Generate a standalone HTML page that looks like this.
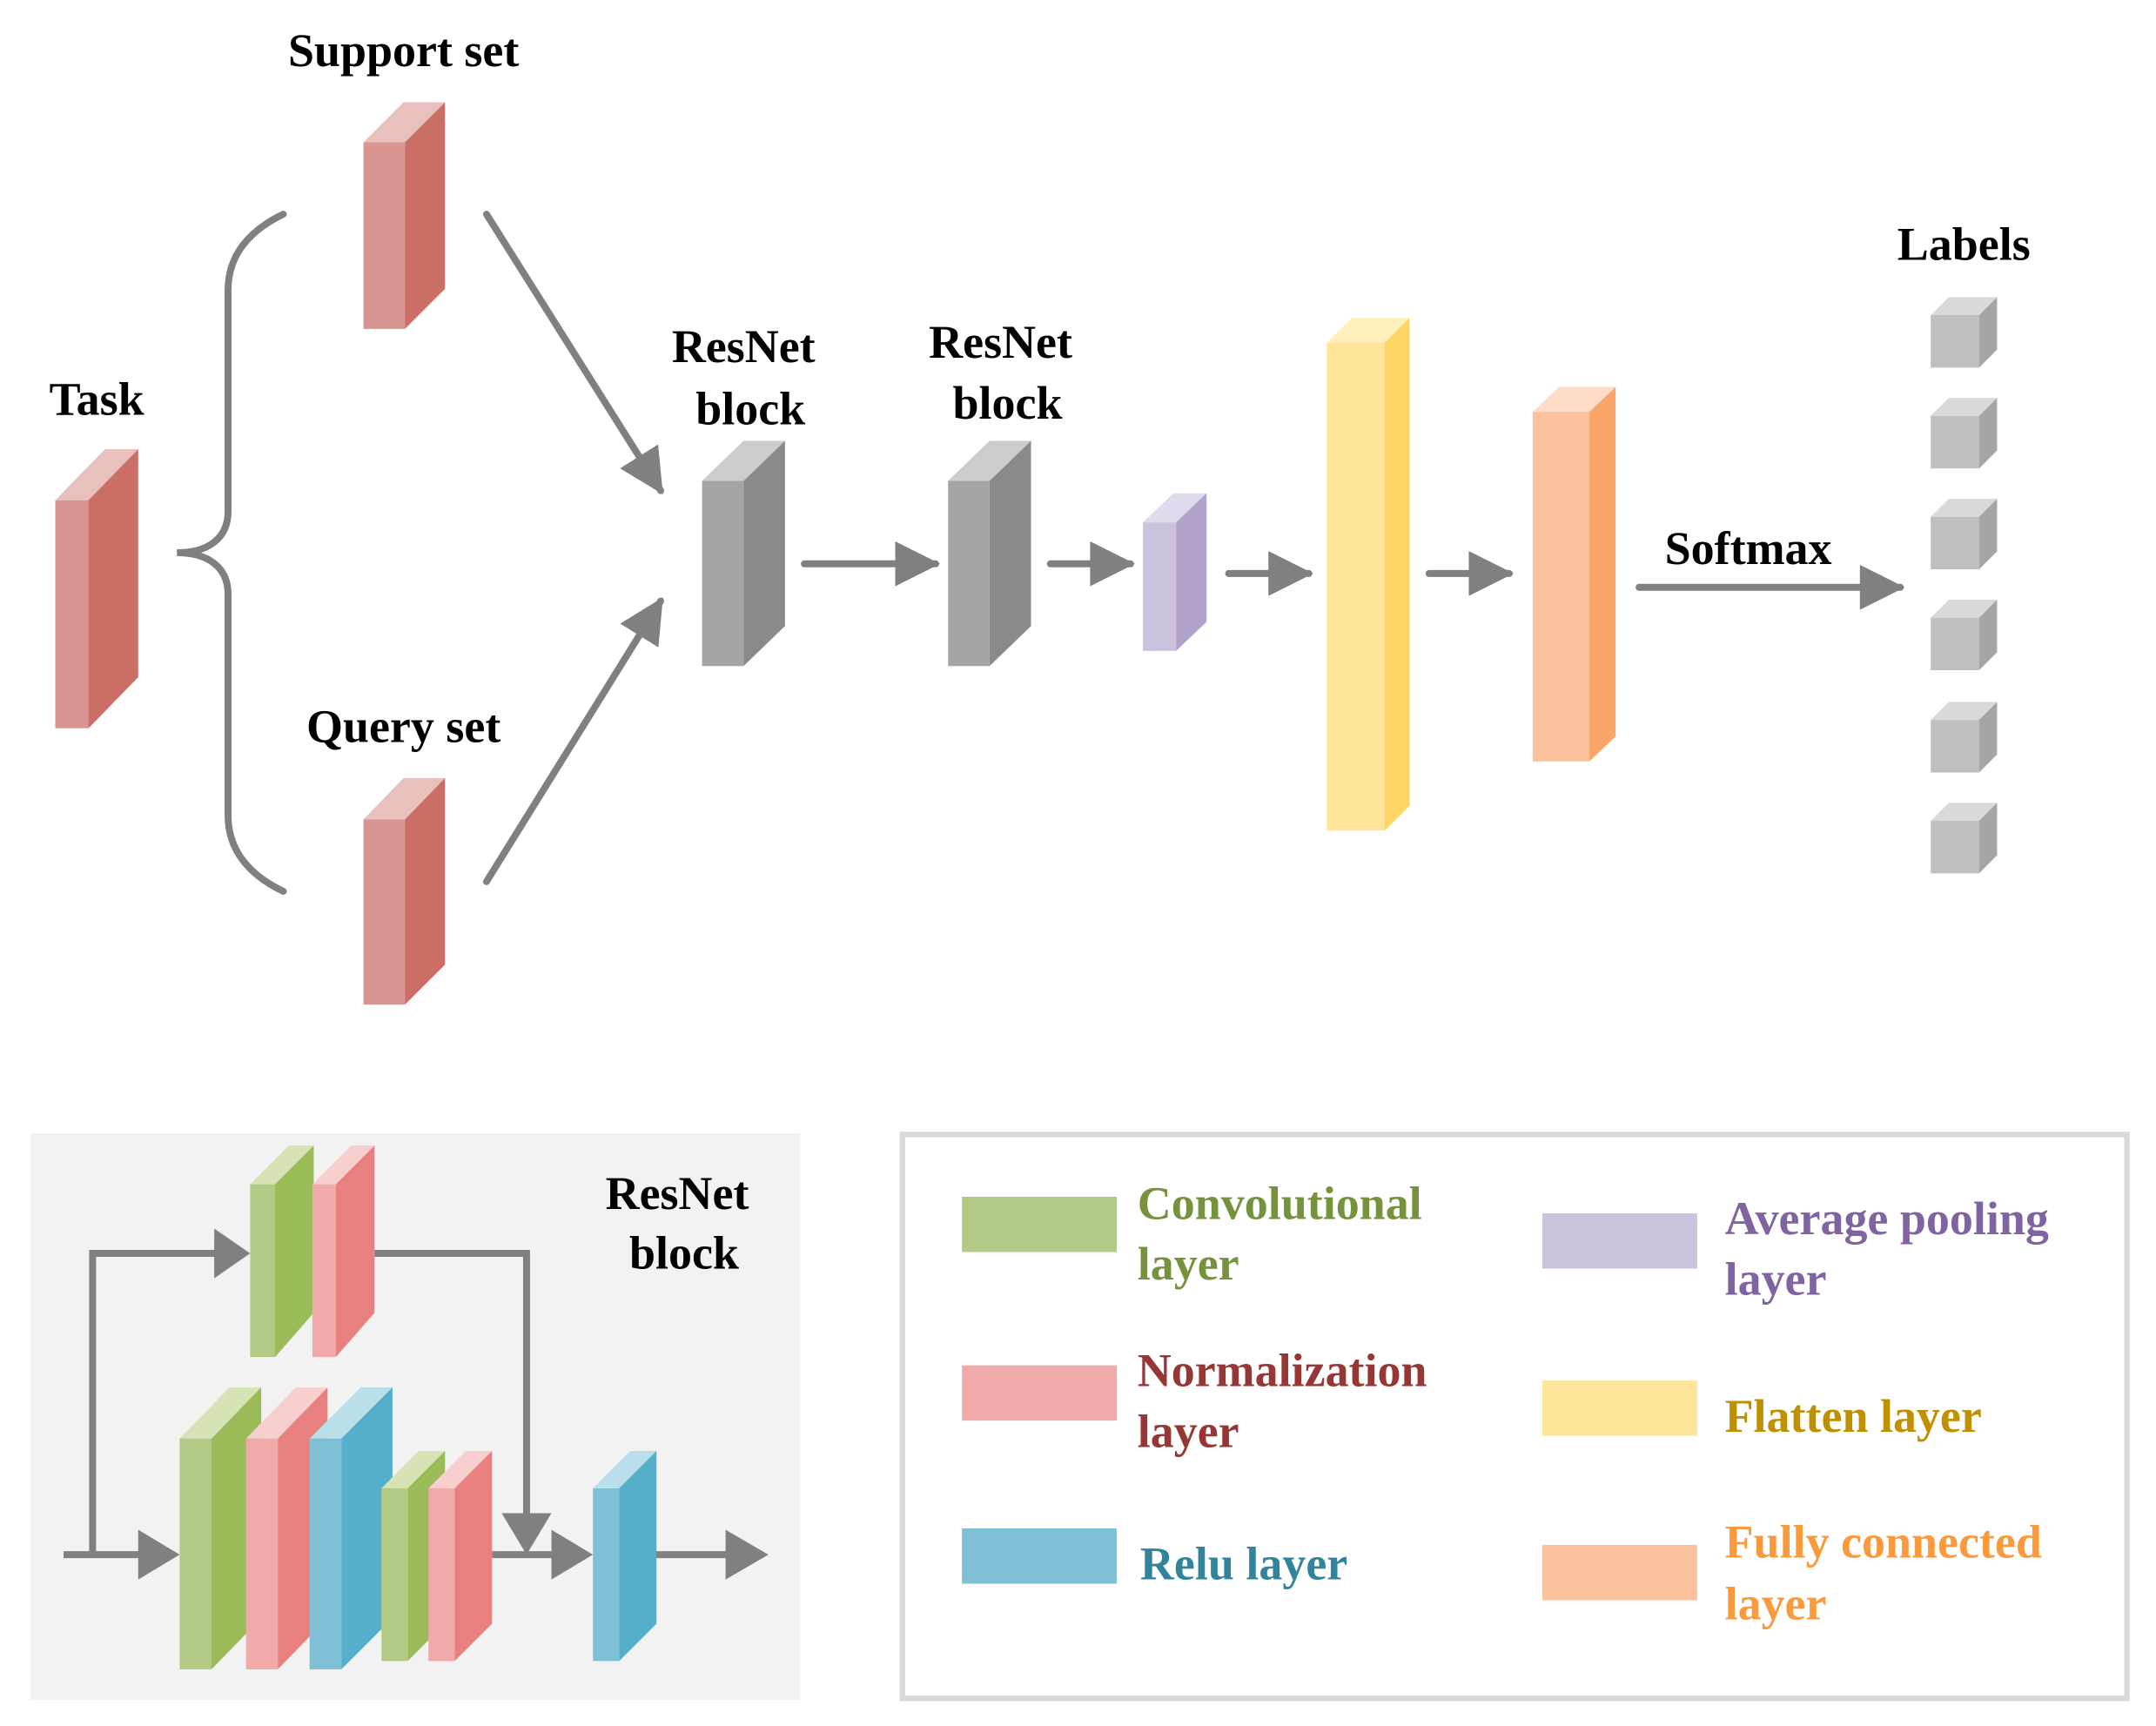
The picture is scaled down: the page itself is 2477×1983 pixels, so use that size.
<!DOCTYPE html>
<html><head><meta charset="utf-8"><style>html,body{margin:0;padding:0;background:#fff}svg{display:block}text{font-family:"Liberation Serif",serif;font-weight:bold}</style></head>
<body>
<svg width="2477" height="1983" viewBox="0 0 1560 1249" preserveAspectRatio="none" xmlns="http://www.w3.org/2000/svg">
<defs>
<marker id="ah" viewBox="0 0 10 10" refX="9" refY="5" markerWidth="7" markerHeight="6.5" orient="auto" markerUnits="strokeWidth"><path d="M0,0L10,5L0,10z" fill="#808080"/></marker>
</defs>
<g id="prisms">
<polygon points="40,362 64,362 100,325 76,325" fill="#e8c0bd"/><rect x="40" y="362" width="24" height="165" fill="#d9958f"/><polygon points="64,362 100,325 100,490 64,527" fill="#cb6f66"/>
<polygon points="263,103 293,103 322,74 292,74" fill="#e8c0bd"/><rect x="263" y="103" width="30" height="135" fill="#d9958f"/><polygon points="293,103 322,74 322,209 293,238" fill="#cb6f66"/>
<polygon points="263,593 293,593 322,563 292,563" fill="#e8c0bd"/><rect x="263" y="593" width="30" height="134" fill="#d9958f"/><polygon points="293,593 322,563 322,698 293,727" fill="#cb6f66"/>
<polygon points="508,348 538,348 568,319 538,319" fill="#cccccc"/><rect x="508" y="348" width="30" height="134" fill="#a5a5a5"/><polygon points="538,348 568,319 568,453 538,482" fill="#8a8a8a"/>
<polygon points="686,348 716,348 746,319 716,319" fill="#cccccc"/><rect x="686" y="348" width="30" height="134" fill="#a5a5a5"/><polygon points="716,348 746,319 746,453 716,482" fill="#8a8a8a"/>
<polygon points="827,378 851,378 873,357 849,357" fill="#e1d9ec"/><rect x="827" y="378" width="24" height="93" fill="#cdc2de"/><polygon points="851,378 873,357 873,450 851,471" fill="#b1a2ca"/>
<polygon points="960,248 1002,248 1020,230 978,230" fill="#fff0bb"/><rect x="960" y="248" width="42" height="353" fill="#fee599"/><polygon points="1002,248 1020,230 1020,583 1002,601" fill="#fdd466"/>
<polygon points="1109,298 1150,298 1169,280 1128,280" fill="#fedcc8"/><rect x="1109" y="298" width="41" height="253" fill="#fcc29e"/><polygon points="1150,298 1169,280 1169,533 1150,551" fill="#fba56b"/>
</g>
<g id="cubes">
<g><polygon points="1397,228 1432,228 1445,215 1410,215" fill="#d9d9d9"/><rect x="1397" y="228" width="35" height="38" fill="#bfbfbf"/><polygon points="1432,228 1445,215 1445,253 1432,266" fill="#a5a5a5"/></g>
<g transform="translate(0,73)"><polygon points="1397,228 1432,228 1445,215 1410,215" fill="#d9d9d9"/><rect x="1397" y="228" width="35" height="38" fill="#bfbfbf"/><polygon points="1432,228 1445,215 1445,253 1432,266" fill="#a5a5a5"/></g>
<g transform="translate(0,146)"><polygon points="1397,228 1432,228 1445,215 1410,215" fill="#d9d9d9"/><rect x="1397" y="228" width="35" height="38" fill="#bfbfbf"/><polygon points="1432,228 1445,215 1445,253 1432,266" fill="#a5a5a5"/></g>
<g transform="translate(0,219)"><polygon points="1397,228 1432,228 1445,215 1410,215" fill="#d9d9d9"/><rect x="1397" y="228" width="35" height="38" fill="#bfbfbf"/><polygon points="1432,228 1445,215 1445,253 1432,266" fill="#a5a5a5"/></g>
<g transform="translate(0,293)"><polygon points="1397,228 1432,228 1445,215 1410,215" fill="#d9d9d9"/><rect x="1397" y="228" width="35" height="38" fill="#bfbfbf"/><polygon points="1432,228 1445,215 1445,253 1432,266" fill="#a5a5a5"/></g>
<g transform="translate(0,366)"><polygon points="1397,228 1432,228 1445,215 1410,215" fill="#d9d9d9"/><rect x="1397" y="228" width="35" height="38" fill="#bfbfbf"/><polygon points="1432,228 1445,215 1445,253 1432,266" fill="#a5a5a5"/></g>
</g>
<path d="M205,155 C180,167 165,185 165,210 L165,370 C165,390 150,400 128,400 C150,400 165,410 165,430 L165,590 C165,615 180,633 205,645" fill="none" stroke="#808080" stroke-width="5" stroke-linecap="round"/>
<g stroke="#808080" stroke-width="5" fill="none" stroke-linecap="round">
<line x1="352" y1="155" x2="478" y2="355" marker-end="url(#ah)"/>
<line x1="352" y1="638" x2="478" y2="435" marker-end="url(#ah)"/>
<line x1="582" y1="408" x2="677" y2="408" marker-end="url(#ah)"/>
<line x1="760" y1="408" x2="818" y2="408" marker-end="url(#ah)"/>
<line x1="889" y1="415" x2="947" y2="415" marker-end="url(#ah)"/>
<line x1="1034" y1="415" x2="1092" y2="415" marker-end="url(#ah)"/>
<line x1="1186" y1="425" x2="1375" y2="425" marker-end="url(#ah)"/>
</g>
<g font-size="34" fill="#000" text-anchor="middle">
<text x="292" y="48">Support set</text>
<text x="70" y="300">Task</text>
<text x="538" y="262">ResNet</text><text x="543" y="307">block</text>
<text x="724" y="259">ResNet</text><text x="729" y="303">block</text>
<text x="292" y="537">Query set</text>
<text x="1265" y="408">Softmax</text>
<text x="1421" y="188">Labels</text>
</g>
<rect x="22" y="820" width="557" height="410" fill="#f2f2f2"/>
<g font-size="34" text-anchor="middle"><text x="490" y="875">ResNet</text><text x="495" y="918">block</text></g>
<g stroke="#808080" stroke-width="5" fill="none">
<polyline points="67,1125 67,907 160,907"/>
<polyline points="271,907 381,907 381,1098"/>
<line x1="46" y1="1125" x2="103" y2="1125"/>
<line x1="356" y1="1125" x2="402" y2="1125"/>
<line x1="473" y1="1125" x2="528" y2="1125"/>
</g>
<g fill="#808080">
<polygon points="155,889 181,907 155,925"/>
<polygon points="363,1095 381,1125 399,1095"/>
<polygon points="100,1107 130,1125 100,1143"/>
<polygon points="399,1107 429,1125 399,1143"/>
<polygon points="525,1107 556,1125 525,1143"/>
</g>
<polygon points="181,857 199,857 227,829 209,829" fill="#d5e3b5"/><rect x="181" y="857" width="18" height="125" fill="#b3c986"/><polygon points="199,857 227,829 227,950 199,982" fill="#9bbb59"/>
<polygon points="226,857 243,857 271,829 254,829" fill="#f8cfcf"/><rect x="226" y="857" width="17" height="125" fill="#f0aaaa"/><polygon points="243,857 271,829 271,950 243,982" fill="#e88080"/>
<polygon points="130,1041 153,1041 189,1004 166,1004" fill="#d5e3b5"/><rect x="130" y="1041" width="23" height="167" fill="#b3c986"/><polygon points="153,1041 189,1004 189,1171 153,1208" fill="#9bbb59"/>
<polygon points="178,1041 201,1041 237,1004 214,1004" fill="#f8cfcf"/><rect x="178" y="1041" width="23" height="167" fill="#f0aaaa"/><polygon points="201,1041 237,1004 237,1171 201,1208" fill="#e88080"/>
<polygon points="224,1041 247,1041 284,1004 261,1004" fill="#b9dfea"/><rect x="224" y="1041" width="23" height="167" fill="#7fc0d6"/><polygon points="247,1041 284,1004 284,1171 247,1208" fill="#55afcb"/>
<polygon points="276,1077 295,1077 322,1050 303,1050" fill="#d5e3b5"/><rect x="276" y="1077" width="19" height="125" fill="#b3c986"/><polygon points="295,1077 322,1050 322,1175 295,1202" fill="#9bbb59"/>
<polygon points="310,1077 329,1077 356,1050 337,1050" fill="#f8cfcf"/><rect x="310" y="1077" width="19" height="125" fill="#f0aaaa"/><polygon points="329,1077 356,1050 356,1175 329,1202" fill="#e88080"/>
<polygon points="429,1077 448,1077 475,1050 456,1050" fill="#b9dfea"/><rect x="429" y="1077" width="19" height="125" fill="#7fc0d6"/><polygon points="448,1077 475,1050 475,1175 448,1202" fill="#55afcb"/>
<rect x="653" y="821" width="886" height="408" fill="#fff" stroke="#d9d9d9" stroke-width="4"/>
<rect x="696" y="866" width="112" height="40" fill="#b3c986"/>
<rect x="696" y="988" width="112" height="40" fill="#f0aaaa"/>
<rect x="696" y="1106" width="112" height="40" fill="#7fc0d6"/>
<rect x="1116" y="878" width="112" height="40" fill="#cdc2db"/>
<rect x="1116" y="999" width="112" height="40" fill="#fee599"/>
<rect x="1116" y="1118" width="112" height="40" fill="#fcc29e"/>
<g font-size="34">
<text x="823" y="882" fill="#76923c">Convolutional</text><text x="823" y="926" fill="#76923c">layer</text>
<text x="823" y="1003" fill="#953734">Normalization</text><text x="823" y="1047" fill="#953734">layer</text>
<text x="825" y="1143" fill="#31849b">Relu layer</text>
<text x="1248" y="893" fill="#8064a2">Average pooling</text><text x="1248" y="937" fill="#8064a2">layer</text>
<text x="1248" y="1036" fill="#bf9000">Flatten layer</text>
<text x="1248" y="1127" fill="#fa9a3c">Fully connected</text><text x="1248" y="1172" fill="#fa9a3c">layer</text>
</g>
</svg>
</body></html>
